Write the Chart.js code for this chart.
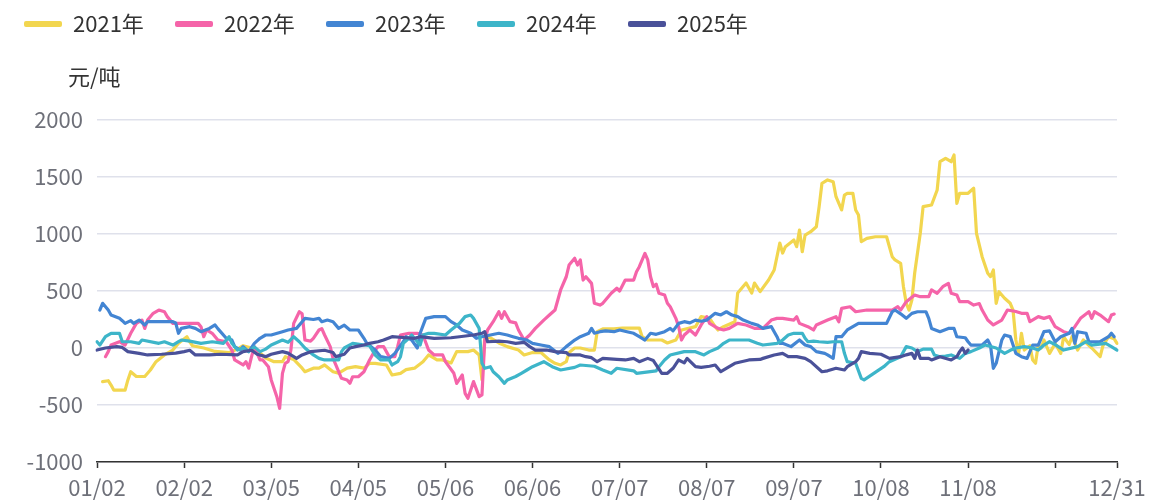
<!DOCTYPE html>
<html>
<head>
<meta charset="utf-8">
<script src="https://cdn.jsdelivr.net/npm/chart.js@4.4.1/dist/chart.umd.min.js"></script>
<style>
  html, body { margin: 0; padding: 0; background: #fff; }
  #wrap { width: 1153px; height: 502px; }
</style>
</head>
<body>
<div id="wrap"><canvas id="chart" width="1153" height="502"></canvas></div>
<script>
// categories: every day from 01/02 to 12/31
const days = [];
for (let d = new Date(2025, 0, 2); d.getFullYear() === 2025; d.setDate(d.getDate() + 1)) {
  days.push(String(d.getMonth() + 1).padStart(2, "0") + "/" + String(d.getDate()).padStart(2, "0"));
}

const seriesNames = ["2021年", "2022年", "2023年", "2024年", "2025年"];
const unitLabel = "元/吨";
const yTicks = { min: -1000, max: 2000, step: 500 };

// [day index, 元/吨]
const y2021 = [[2,-295],[4,-287],[5,-325],[6,-370],[10,-370],[11,-280],[12,-208],[14,-250],[17,-250],[19,-193],[21,-120],[24,-61],[27,-18],[29,41],[32,99],[33,55],[34,20],[38,0],[42,-30],[47,-40],[50,-10],[52,20],[55,0],[58,-40],[60,-88],[63,-120],[66,-120],[67,-76],[70,-100],[73,-177],[74,-208],[77,-177],[79,-177],[81,-149],[84,-208],[86,-220],[89,-177],[92,-164],[95,-177],[97,-135],[99,-135],[103,-149],[105,-237],[108,-222],[110,-190],[113,-177],[116,-120],[118,-61],[121,-105],[123,-105],[126,-131],[128,-32],[132,-32],[134,-18],[136,-61],[137,-280],[138,99],[140,88],[143,44],[146,12],[150,-18],[152,-61],[155,-40],[158,-40],[161,-105],[163,-134],[165,-149],[167,-120],[168,-40],[170,0],[172,0],[175,-18],[177,-18],[178,143],[180,167],[184,167],[187,175],[193,175],[194,99],[196,70],[201,70],[203,44],[206,70],[208,158],[213,187],[215,275],[218,260],[220,187],[221,158],[223,187],[226,219],[227,230],[228,482],[231,570],[233,482],[234,570],[236,494],[239,596],[241,684],[243,921],[244,833],[245,889],[248,947],[249,889],[250,1035],[251,845],[252,991],[254,1020],[256,1064],[257,1240],[258,1445],[260,1474],[262,1459],[263,1327],[265,1211],[266,1342],[267,1357],[269,1357],[270,1211],[271,1167],[272,933],[274,962],[277,976],[281,976],[283,801],[284,772],[286,743],[287,538],[288,392],[289,333],[290,421],[291,658],[293,1009],[294,1240],[297,1254],[299,1386],[300,1634],[302,1664],[304,1634],[305,1693],[306,1269],[307,1357],[310,1357],[312,1401],[313,1006],[315,801],[317,655],[318,626],[319,684],[320,392],[321,494],[323,436],[325,392],[326,333],[327,70],[328,-47],[329,129],[330,-18],[332,20],[333,-105],[334,-134],[335,30],[336,0],[337,70],[339,-47],[341,40],[343,-47],[344,99],[346,30],[347,99],[349,-18],[351,70],[354,0],[357,-76],[358,20],[360,99],[362,80],[363,41]];

const y2022 = [[3,-76],[4,-32],[5,26],[8,55],[10,26],[12,129],[14,216],[16,245],[17,172],[18,245],[20,304],[22,333],[24,318],[25,275],[27,216],[30,216],[36,216],[37,187],[38,99],[39,158],[41,129],[43,70],[46,55],[48,-18],[49,-105],[52,-149],[53,-120],[54,-177],[55,-76],[56,12],[58,-105],[59,-105],[61,-164],[62,-280],[64,-427],[65,-529],[66,-222],[67,-134],[68,-120],[69,-18],[70,216],[72,318],[73,300],[74,70],[76,60],[77,85],[79,158],[80,170],[81,114],[83,12],[84,-91],[85,-149],[87,-266],[89,-280],[90,-310],[91,-252],[93,-252],[95,-208],[97,-105],[99,-18],[100,12],[102,12],[104,-76],[106,-76],[107,12],[108,114],[111,129],[114,129],[116,114],[118,-18],[120,-61],[123,-61],[124,-120],[127,-222],[128,-310],[130,-237],[131,-398],[132,-441],[133,-368],[134,-295],[136,-427],[137,-412],[138,70],[139,158],[141,231],[143,318],[144,260],[145,318],[147,231],[149,220],[150,158],[152,70],[154,114],[156,172],[159,245],[161,289],[163,333],[165,509],[167,625],[168,728],[170,787],[171,728],[172,772],[173,596],[174,625],[176,567],[177,392],[179,377],[180,392],[183,480],[185,524],[186,500],[188,596],[191,596],[192,669],[193,713],[195,830],[196,772],[197,625],[198,538],[199,560],[200,480],[202,465],[203,392],[204,362],[206,260],[207,187],[208,70],[209,114],[211,158],[213,114],[215,202],[217,275],[218,216],[221,172],[223,158],[225,172],[228,216],[231,202],[234,172],[237,172],[240,245],[242,260],[244,260],[248,245],[249,275],[250,216],[253,187],[255,158],[256,202],[260,245],[263,275],[264,230],[265,348],[268,362],[270,318],[274,333],[283,333],[285,362],[286,333],[288,406],[291,465],[293,450],[296,450],[297,509],[299,480],[301,538],[303,567],[304,480],[306,465],[307,406],[310,406],[312,377],[314,390],[315,333],[317,245],[319,202],[322,245],[324,333],[327,320],[329,304],[331,304],[332,231],[335,275],[337,260],[339,275],[341,187],[344,143],[346,129],[348,187],[350,260],[353,318],[354,260],[355,318],[357,289],[360,231],[361,289],[362,298]];

const y2023 = [[1,333],[2,392],[4,333],[5,289],[8,260],[9,240],[10,216],[12,240],[13,216],[15,245],[17,202],[18,231],[22,231],[27,231],[28,220],[29,129],[30,172],[33,187],[35,172],[37,143],[40,172],[42,202],[43,170],[46,85],[48,70],[49,12],[51,-18],[52,12],[54,-32],[56,41],[58,85],[60,114],[62,114],[66,143],[68,158],[71,172],[73,231],[74,260],[77,250],[79,260],[80,231],[82,245],[84,231],[86,172],[88,200],[90,158],[93,158],[95,85],[96,41],[99,-18],[101,-76],[104,-91],[106,-47],[109,55],[110,99],[112,70],[114,0],[115,129],[117,260],[120,275],[124,275],[126,231],[128,202],[130,158],[133,129],[135,85],[137,99],[140,114],[143,129],[146,114],[148,99],[150,85],[153,70],[155,41],[158,26],[161,12],[164,-47],[165,-32],[167,12],[170,70],[172,99],[175,129],[176,172],[177,130],[179,143],[181,150],[184,143],[186,158],[189,140],[191,129],[193,99],[195,70],[197,129],[199,120],[202,143],[204,172],[205,150],[207,216],[209,231],[211,220],[213,245],[215,235],[217,245],[220,304],[222,290],[224,318],[226,289],[228,275],[230,245],[233,216],[235,202],[237,172],[240,187],[242,99],[243,41],[244,41],[247,12],[250,70],[252,26],[254,12],[256,-32],[259,-47],[260,-60],[262,-91],[263,99],[265,99],[267,158],[271,216],[281,216],[283,318],[284,333],[286,300],[288,260],[290,304],[292,318],[295,318],[296,260],[297,172],[300,143],[303,172],[305,172],[306,99],[309,90],[310,55],[311,26],[315,26],[317,70],[318,20],[319,-178],[320,-134],[322,70],[323,114],[325,100],[327,-47],[329,-76],[331,-91],[333,26],[335,26],[337,143],[339,150],[341,55],[343,99],[346,129],[347,172],[348,41],[349,143],[352,129],[353,55],[357,55],[360,99],[361,129],[362,99]];

const y2024 = [[0,55],[1,26],[3,99],[5,129],[8,129],[9,55],[12,55],[15,41],[16,70],[22,41],[24,55],[27,26],[29,55],[30,70],[33,60],[37,41],[41,55],[45,41],[47,99],[48,41],[50,-18],[52,0],[54,-32],[56,10],[58,-32],[60,-10],[62,26],[66,70],[68,50],[70,99],[72,55],[74,0],[77,-61],[79,-91],[81,-105],[86,-105],[87,-32],[88,0],[91,41],[97,20],[99,-61],[101,-105],[104,-105],[105,-149],[107,-120],[108,-76],[109,41],[111,85],[112,114],[115,26],[116,114],[118,129],[120,129],[124,114],[126,158],[129,216],[131,275],[133,289],[134,260],[136,172],[137,-134],[138,-178],[140,-164],[141,-208],[143,-252],[145,-310],[146,-280],[149,-250],[151,-222],[153,-193],[155,-164],[159,-120],[162,-164],[165,-193],[170,-170],[172,-149],[177,-160],[180,-193],[183,-222],[185,-178],[191,-200],[192,-222],[199,-200],[200,-164],[202,-105],[204,-61],[209,-32],[213,-32],[216,-61],[218,-32],[221,0],[223,41],[225,70],[230,70],[232,70],[235,41],[237,26],[242,41],[244,70],[246,114],[248,129],[251,129],[252,85],[253,55],[255,60],[257,55],[260,50],[262,55],[265,55],[266,-47],[267,-120],[270,-134],[272,-266],[273,-280],[280,-164],[282,-120],[286,-76],[288,12],[290,0],[292,-32],[294,-10],[297,-10],[298,-61],[300,-76],[302,-70],[304,-61],[307,-91],[309,-47],[311,-32],[314,0],[316,26],[320,0],[323,-47],[325,-20],[327,0],[330,12],[333,0],[335,-18],[337,26],[339,55],[341,30],[344,-18],[349,12],[352,55],[354,26],[359,40],[361,12],[363,-18]];

const y2025 = [[0,-18],[3,0],[7,12],[9,5],[11,-32],[15,-47],[18,-61],[23,-55],[28,-45],[31,-32],[33,-20],[35,-61],[40,-61],[44,-55],[50,-61],[52,-32],[55,-20],[57,-55],[60,-76],[62,-55],[66,-32],[68,-45],[69,-61],[71,-91],[73,-61],[76,-32],[81,-20],[84,-40],[85,-76],[88,-55],[90,0],[92,12],[95,26],[97,41],[100,55],[102,70],[105,99],[110,90],[113,85],[115,99],[120,85],[126,90],[129,99],[134,114],[137,129],[138,143],[139,55],[143,60],[146,55],[149,41],[152,50],[154,12],[156,-18],[160,-18],[163,-32],[167,-40],[168,-61],[172,-61],[174,-76],[176,-85],[178,-120],[180,-91],[185,-100],[188,-105],[191,-91],[193,-120],[196,-91],[198,-110],[201,-222],[203,-222],[205,-178],[207,-105],[209,-130],[210,-91],[213,-164],[215,-170],[218,-160],[220,-149],[222,-208],[225,-164],[227,-134],[232,-105],[236,-100],[237,-91],[241,-61],[244,-47],[246,-76],[249,-76],[252,-91],[254,-120],[258,-208],[260,-200],[263,-178],[266,-193],[267,-164],[270,-120],[271,-91],[272,-32],[275,-47],[279,-55],[282,-91],[286,-76],[288,-60],[290,-47],[291,-91],[292,-18],[293,-91],[296,-91],[297,-105],[300,-76],[304,-105],[306,-76],[307,-32],[308,0],[309,-47],[310,-18]];

const colors = ["#f2d64f", "#f564a9", "#4385d3", "#3db5c9", "#4a5199"];
const allSeries = [y2021, y2022, y2023, y2024, y2025];

const toPoints = (arr) => arr.map(([i, v]) => ({ x: days[i], y: v }));

const datasets = allSeries.map((s, k) => ({
  label: seriesNames[k],
  data: toPoints(s),
  borderColor: colors[k],
  backgroundColor: colors[k],
  borderWidth: 3.2,
  pointRadius: 0,
  tension: 0,
  borderJoinStyle: "round",
  borderCapStyle: "round",
  order: 5 - k,
}));

const lastIdx = days.length - 1;
const showTick = (v) => v % 31 === 0 || v === lastIdx;

// legend row and unit text
const legendAndUnit = {
  id: "legendAndUnit",
  afterDraw(chart) {
    const ctx = chart.ctx;
    ctx.save();
    ctx.font = '22px "Noto Sans CJK SC"';
    ctx.textBaseline = "middle";
    ctx.textAlign = "left";
    chart.data.datasets.forEach((ds, i) => {
      const x = 24 + i * 151;
      ctx.fillStyle = ds.borderColor;
      ctx.beginPath();
      ctx.roundRect(x, 21, 38, 6, 2);
      ctx.fill();
      ctx.fillStyle = "#333";
      ctx.fillText(ds.label, x + 49, 24);
    });
    ctx.fillStyle = "#333";
    ctx.fillText(unitLabel, 68, 77);
    ctx.restore();
  },
};

Chart.defaults.font.family = '"Noto Sans CJK SC", "Noto Sans", sans-serif';

new Chart(document.getElementById("chart"), {
  type: "line",
  data: { labels: days, datasets: datasets },
  options: {
    responsive: false,
    animation: false,
    devicePixelRatio: 1,
    layout: { padding: { top: 120, left: 0, right: 36, bottom: 0 } },
    plugins: {
      legend: { display: false },
      tooltip: { enabled: false },
    },
    scales: {
      x: {
        type: "category",
        offset: false,
        afterBuildTicks: (s) => { s.ticks = s.ticks.filter((t) => showTick(t.value)); },
        afterFit: (s) => { s.height = 40; },
        grid: {
          drawOnChartArea: false,
          drawTicks: true,
          tickLength: 6,
          tickColor: "#333",
          tickWidth: 1.5,
        },
        border: { display: true, color: "#333", width: 1.5 },
        ticks: {
          autoSkip: false,
          maxRotation: 0,
          padding: 6,
          color: "#6e7079",
          font: { size: 22 },
          callback: (v) => (v === 341 ? "" : days[v]),
        },
      },
      y: {
        min: yTicks.min,
        max: yTicks.max,
        afterFit: (s) => { s.width = 97; },
        grid: { color: "#dfe1eb", lineWidth: 1.5, drawTicks: false },
        border: { display: false },
        ticks: {
          stepSize: yTicks.step,
          padding: 14,
          color: "#6e7079",
          font: { size: 22 },
          callback: (v) => String(v),
        },
      },
    },
  },
  plugins: [legendAndUnit],
});
</script>
</body>
</html>
